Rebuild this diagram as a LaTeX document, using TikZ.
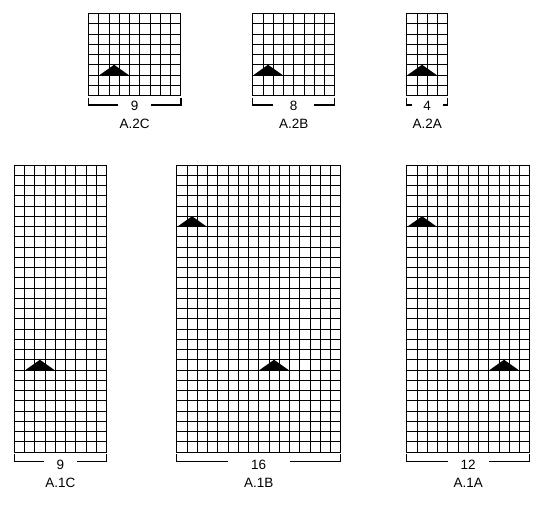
\documentclass[tikz,border=0pt]{standalone}
\usepackage{fontspec}
\setmainfont{Liberation Sans}
\usetikzlibrary{calc}

\def\cw{10.25}

% chart: name, left, top, columns, rows, gap, drop of the count, title
\newcommand{\knitchart}[8]{%
  \coordinate (#1-nw) at (#2,#3);
  \foreach \i in {0,...,#4}
    \draw[gridline] ({#2+\i*\cw},#3) -- ++(0,{#5*\cw});
  \foreach \j in {0,...,#5}
    \draw[gridline] (#2,{#3+\j*\cw}) -- ++({#4*\cw},0);
  \coordinate (#1-sw) at (#2,{#3+#5*\cw});
  \coordinate (#1-se) at ({#2+#4*\cw},{#3+#5*\cw});
  \coordinate (#1-line) at ($(#1-sw)!0.5!(#1-se)+(0,9.5)$);
  \node[count, minimum width=#6] (#1-n) at ($(#1-line)+(0,#7)$) {#4};
  \node[title] (#1-t) at ($(#1-n)+(0,18)$) {#8};
  \draw[bracket] ([yshift=-2pt]#1-sw) |- (#1-n.west |- #1-line);
  \draw[bracket] ([yshift=-2pt]#1-se) |- (#1-n.east |- #1-line);
}

% increase symbol: chart, column, row (counted from top)
\newcommand{\incr}[3]{%
  \fill[incsym] ([shift={({(#2+0.5)*\cw-14.5},{(#3+1)*\cw})}]#1-nw)
    -- ++(29,0) -- ++(-14.5,{-\cw}) -- cycle;
}

\begin{document}
\begin{tikzpicture}[
    x=1pt, y=-1pt,
    gridline/.style={line width=0.85pt, draw=black, line cap=rect},
    bracket/.style={line width=1.5pt, draw=black},
    count/.style={inner sep=0pt, font=\fontsize{13.5}{15}\selectfont},
    title/.style={count},
    incsym/.style={fill=black}
  ]
  \useasboundingbox (0,0) rectangle (550,506);

  % top row
  \knitchart{a2c}{88.5}{13.5}{9}{8}{33}{0.5}{A.2C}
  \knitchart{a2b}{252.7}{13.5}{8}{8}{41}{0.5}{A.2B}
  \knitchart{a2a}{406.7}{13.5}{4}{8}{31}{0.5}{A.2A}
  \incr{a2c}{2}{5}
  \incr{a2b}{1}{5}
  \incr{a2a}{1}{5}

  % bottom row
  \knitchart{a1c}{14.3}{165}{9}{28}{32}{3}{A.1C}
  \knitchart{a1b}{176.7}{165}{16}{28}{62}{3}{A.1B}
  \knitchart{a1a}{406.7}{165}{12}{28}{41}{3}{A.1A}
  \incr{a1c}{2}{19}
  \incr{a1b}{1}{5}
  \incr{a1b}{9}{19}
  \incr{a1a}{1}{5}
  \incr{a1a}{9}{19}
\end{tikzpicture}
\end{document}
